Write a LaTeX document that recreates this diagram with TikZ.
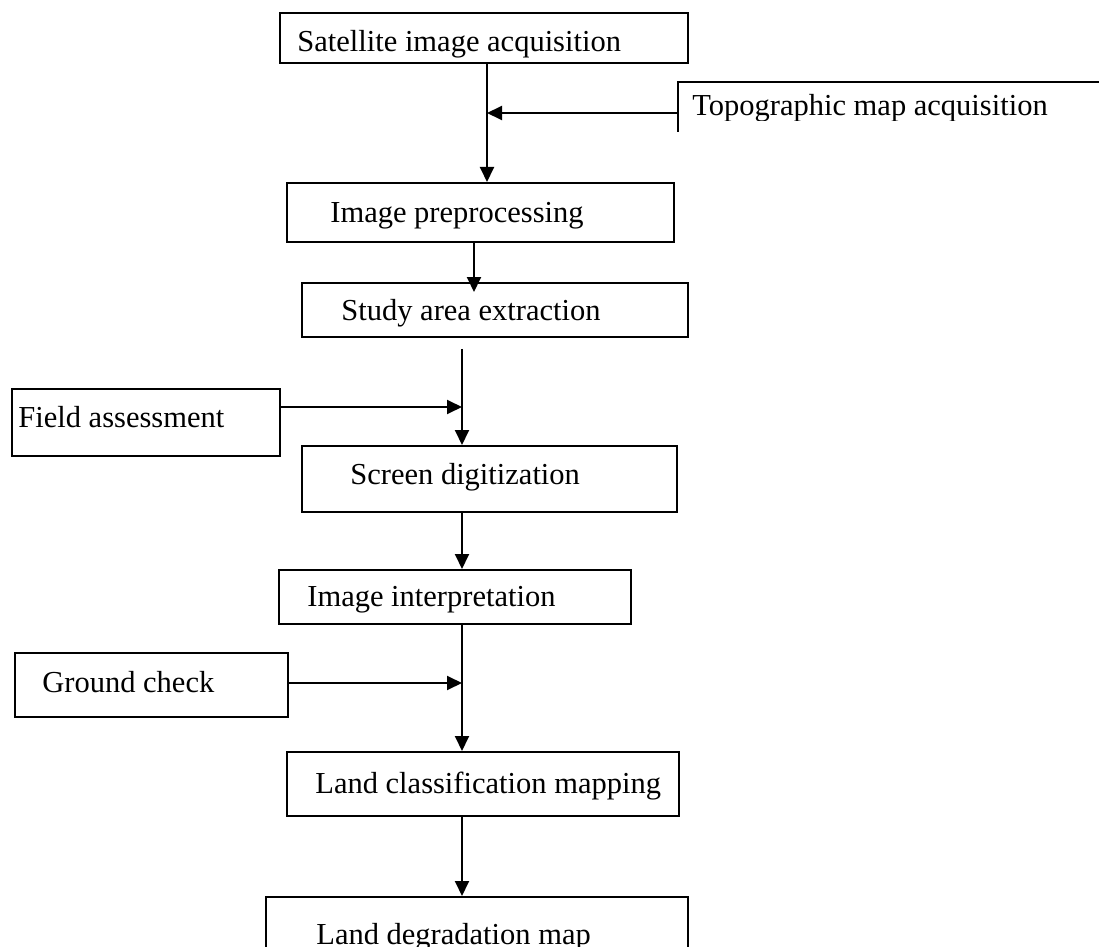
\documentclass[tikz,border=0pt]{standalone}
\usepackage{fontspec}
\setmainfont{Liberation Serif}
\usetikzlibrary{arrows.meta,calc}
\begin{document}
\begin{tikzpicture}[x=0.5pt,y=-0.5pt,
  box/.style={draw, line width=0.95pt, inner sep=0pt, anchor=north west},
  lbl/.style={anchor=base west, inner sep=0pt, font=\fontsize{15.25}{18}\selectfont},
  conn/.style={line width=0.95pt},
  arr/.style={conn, -{Triangle[length=7.5pt,width=7pt]}}]
\useasboundingbox (0,0) rectangle (1099,947);
% boxes
\node[box, minimum width=204pt, minimum height=25pt] (sat) at (279,12) {};
\node[lbl] (sat-t) at (297,52) {Satellite image acquisition};
\node[box, draw=none, minimum width=216pt, minimum height=24pt] (topo) at (678,82) {};
\draw[conn] (topo.south west) -- (topo.north west) -- (topo.north east);
\begin{scope}
  \clip (678,82) rectangle (1099,121);
  \node[lbl] (topo-t) at (692,116) {Topographic map acquisition};
\end{scope}
\node[box, minimum width=193.5pt, minimum height=29.5pt] (pre) at (286,182) {};
\node[lbl] (pre-t) at (330,223) {Image preprocessing};
\node[box, minimum width=193pt, minimum height=27pt] (study) at (301,282) {};
\node[lbl] (study-t) at (341,321) {Study area extraction};
\node[box, minimum width=134pt, minimum height=33.5pt] (field) at (11,388) {};
\node[lbl] (field-t) at (18,427) {Field assessment};
\node[box, minimum width=187.5pt, minimum height=33pt] (screen) at (301,445) {};
\node[lbl] (screen-t) at (350,484) {Screen digitization};
\node[box, minimum width=176pt, minimum height=27pt] (interp) at (278,569) {};
\node[lbl] (interp-t) at (307,606) {Image interpretation};
\node[box, minimum width=136.5pt, minimum height=32pt] (ground) at (14,652) {};
\node[lbl] (ground-t) at (42,692) {Ground check};
\node[box, minimum width=196pt, minimum height=32pt] (land) at (286,751) {};
\node[lbl] (land-t) at (315,793) {Land classification mapping};
\node[box, minimum width=211pt, minimum height=32pt] (degr) at (265,896) {};
\node[lbl] (degr-t) at (316,944) {Land degradation map};
% trunk coordinates
\coordinate (c1) at (487,0);
\coordinate (c2) at (474,0);
\coordinate (c3) at (462,0);
\coordinate (ty) at (0,113);
\coordinate (fy) at (0,407);
\coordinate (gy) at (0,683);
% connectors
\draw[arr] (sat.south -| c1) -- (pre.north -| c1);
\draw[arr] (topo.north west |- ty) -- (c1 |- ty);
\coordinate (sa-tip) at ($(study.north -| c2)+(0,10)$);
\draw[arr] (pre.south -| c2) -- (sa-tip);
\coordinate (s-start) at ($(study.south -| c3)+(0,11)$);
\draw[arr] (s-start) -- (screen.north -| c3);
\draw[arr] (field.east |- fy) -- (c3 |- fy);
\draw[arr] (screen.south -| c3) -- (interp.north -| c3);
\draw[arr] (interp.south -| c3) -- (land.north -| c3);
\draw[arr] (ground.east |- gy) -- (c3 |- gy);
\draw[arr] (land.south -| c3) -- (degr.north -| c3);
\end{tikzpicture}
\end{document}
